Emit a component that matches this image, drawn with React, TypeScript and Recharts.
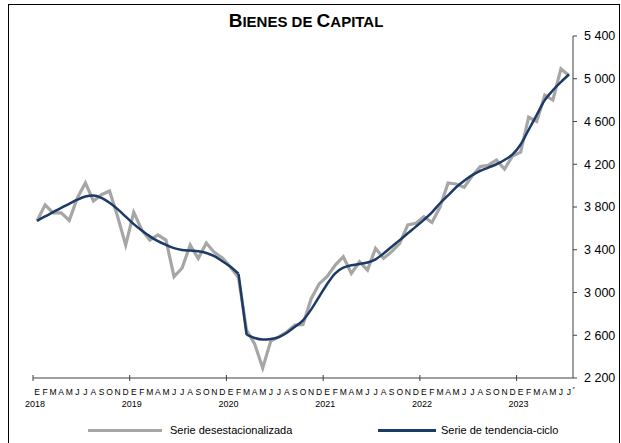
import React from 'react';
import { LineChart, Line, XAxis, YAxis } from 'recharts';

// Ene 2018 - Jul 2023, mensual
const meses = ['E', 'F', 'M', 'A', 'M', 'J', 'J', 'A', 'S', 'O', 'N', 'D'];
const anios = ['2018', '2019', '2020', '2021', '2022', '2023'];

const serieDesestacionalizada = [
  3670, 3820, 3745, 3745, 3675, 3885, 4025, 3856, 3915, 3950, 3710, 3444,
  3750, 3585, 3490, 3538, 3491, 3148, 3229, 3444, 3318, 3463, 3375, 3323,
  3239, 3140, 2645, 2520, 2294, 2545, 2584, 2633, 2695, 2700, 2940, 3080,
  3150, 3257, 3335, 3179, 3288, 3210, 3413, 3320, 3382, 3460, 3632, 3647,
  3709, 3655, 3800, 4025, 4015, 3985, 4092, 4178, 4191, 4240, 4154, 4277,
  4314, 4640, 4600, 4846, 4800, 5092, 5031,
];

const serieTendencia = [
  3670, 3712, 3752, 3792, 3830, 3868, 3898, 3908, 3885, 3840, 3780, 3710,
  3640, 3580, 3525, 3480, 3445, 3415, 3398, 3392, 3385, 3370, 3340, 3292,
  3240, 3175, 2605, 2574, 2560, 2565, 2583, 2624, 2680, 2740, 2840, 2960,
  3080, 3180, 3232, 3255, 3267, 3280, 3310, 3365, 3428, 3490, 3554, 3616,
  3680, 3750, 3835, 3908, 3985, 4046, 4098, 4138, 4169, 4200, 4240, 4292,
  4385, 4523, 4662, 4800, 4892, 4969, 5040,
];

// feb 2020: la tendencia se corta ahi
const corte = 25;

const yTicks = [2200, 2600, 3000, 3400, 3800, 4200, 4600, 5000, 5400];

const data = serieDesestacionalizada.map((v, i) => ({
  i,
  des: v,
  t1: i <= corte ? serieTendencia[i] : null,
  t2: i > corte ? serieTendencia[i] : null,
  tc: i === corte || i === corte + 1 ? serieTendencia[i] : null,
}));

const xTicks: number[] = [];
for (let k = 0; k < anios.length; k++) xTicks.push(k * 12 - 0.5);
for (let i = 0; i < serieDesestacionalizada.length; i++) xTicks.push(i);

const GRIS = '#a6a6a6';
const AZUL = '#1b3a66';
const EJE = '#404040';

const fmt = (v: number) => `${Math.floor(v / 1000)} ${String(v % 1000).padStart(3, '0')}`;

const XTick = (props: any) => {
  const { x, y, payload } = props;
  const v = payload.value as number;
  if (!Number.isInteger(v)) {
    return <line x1={x} x2={x} y1={y - 3} y2={y + 3} stroke={EJE} strokeWidth={1} />;
  }
  const m = v % 12;
  const ultimo = v === serieDesestacionalizada.length - 1;
  return (
    <g>
      <text x={x} y={y + 17} textAnchor="middle" fontSize={8.5} fill="#000">
        {meses[m]}
      </text>
      {ultimo && (
        <text x={x + 3.5} y={y + 13} textAnchor="start" fontSize={6} fill="#000">
          *
        </text>
      )}
      {m === 0 && (
        <text x={x - 2} y={y + 29} textAnchor="middle" fontSize={9} fill="#000">
          {anios[v / 12]}
        </text>
      )}
    </g>
  );
};

export default function App() {
  const font = '"Liberation Sans", Arial, sans-serif';
  return (
    <div style={{ position: 'absolute', left: 0, top: 0, width: 621, height: 443, overflow: 'hidden', background: '#fff', fontFamily: font }}>
      <div style={{ position: 'absolute', left: 8, top: 4, width: 612, height: 470, border: '1px solid #000', boxSizing: 'border-box' }} />
      <div style={{ position: 'absolute', left: 0, top: 11, width: 612, textAlign: 'center', fontWeight: 'bold', fontSize: 19, color: '#000', lineHeight: '20px' }}>
        B<span style={{ fontSize: 15 }}>IENES DE </span>C<span style={{ fontSize: 15 }}>APITAL</span>
      </div>

      <LineChart width={621} height={443} data={data} margin={{ top: 36, right: 8, bottom: 25, left: 33 }} style={{ position: 'absolute', left: 0, top: 0 }}>
        <XAxis
          dataKey="i"
          type="number"
          domain={[-0.5, serieDesestacionalizada.length - 0.5]}
          ticks={xTicks}
          interval={0}
          tick={<XTick />}
          tickLine={false}
          tickSize={0}
          tickMargin={0}
          height={40}
          axisLine={{ stroke: EJE, strokeWidth: 1 }}
          allowDataOverflow
        />
        <YAxis
          orientation="right"
          type="number"
          domain={[2200, 5400]}
          ticks={yTicks}
          interval={0}
          tickFormatter={fmt}
          width={40}
          tickSize={4}
          tickMargin={7}
          tick={{ fontSize: 12.5, fill: '#000', fontFamily: font }}
          tickLine={{ stroke: EJE }}
          axisLine={{ stroke: EJE, strokeWidth: 1 }}
        />
        <Line dataKey="des" type="linear" stroke={GRIS} strokeWidth={3.2} dot={false} isAnimationActive={false} />
        <Line dataKey="tc" type="linear" stroke={AZUL} strokeWidth={2.5} dot={false} isAnimationActive={false} />
        <Line dataKey="t1" type="monotone" stroke={AZUL} strokeWidth={2.5} dot={false} isAnimationActive={false} />
        <Line dataKey="t2" type="monotone" stroke={AZUL} strokeWidth={2.5} dot={false} isAnimationActive={false} />
      </LineChart>

      <div style={{ position: 'absolute', left: 88, top: 429, width: 74, height: 3, background: GRIS }} />
      <div style={{ position: 'absolute', left: 170, top: 423, fontSize: 11, color: '#000', lineHeight: '14px', whiteSpace: 'nowrap' }}>
        Serie desestacionalizada
      </div>
      <div style={{ position: 'absolute', left: 378, top: 429, width: 58, height: 3, background: AZUL }} />
      <div style={{ position: 'absolute', left: 441, top: 423, fontSize: 11, color: '#000', lineHeight: '14px', whiteSpace: 'nowrap' }}>
        Serie de tendencia-ciclo
      </div>
    </div>
  );
}
